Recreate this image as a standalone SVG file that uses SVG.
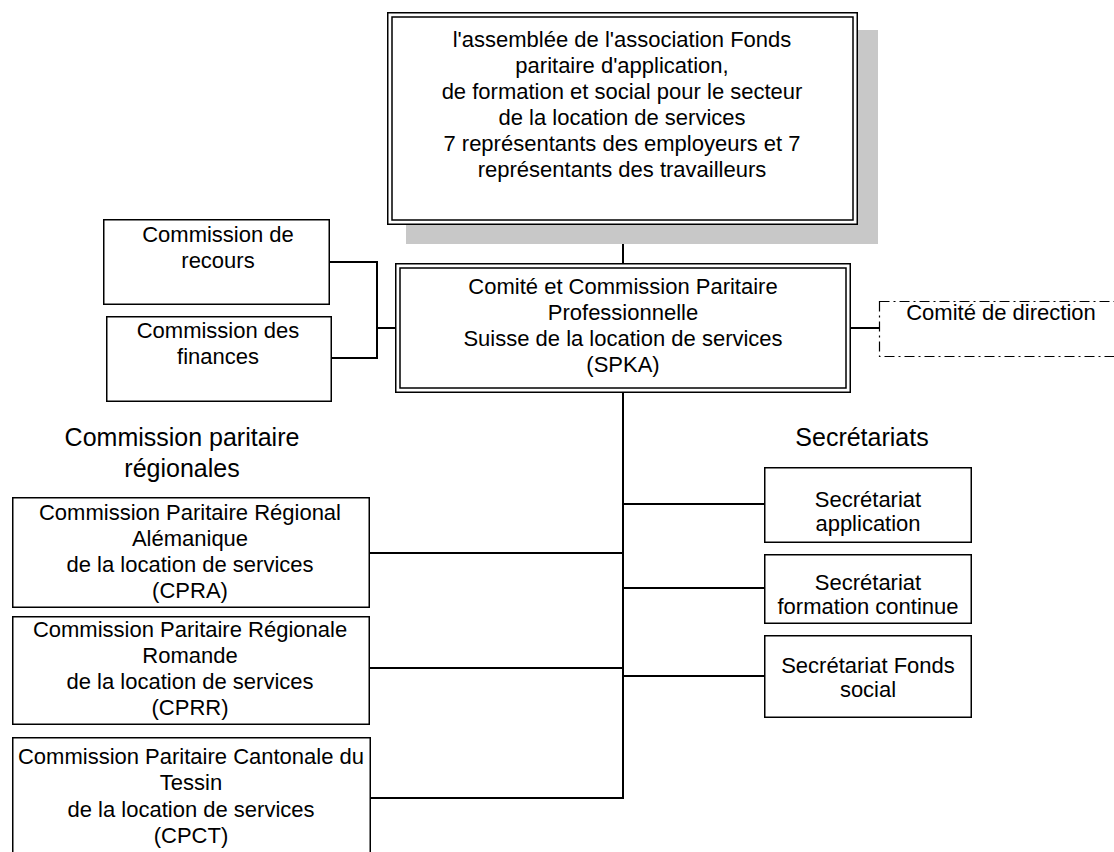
<svg xmlns="http://www.w3.org/2000/svg" width="1114" height="852" viewBox="0 0 1114 852">
<style>
text{font-family:"Liberation Sans",Arial,sans-serif;font-size:22px;fill:#000;text-anchor:middle}
.hd{font-size:25px}
.box{fill:#fff;stroke:#000;stroke-width:1.5}
.dbl{fill:none;stroke:#000;stroke-width:1.5}
.shadow{fill:#c8c8c8}
.dash{fill:#fff;stroke:#000;stroke-width:1.2;stroke-dasharray:10 4 2 4}
.conn line{stroke:#000;stroke-width:2}
</style>
<rect width="1114" height="852" fill="#fff"/>
<g id="connectors" class="conn">
<line x1="623" y1="225" x2="623" y2="263"/>
<line x1="623" y1="393" x2="623" y2="799"/>
<line x1="623" y1="504" x2="764" y2="504"/>
<line x1="623" y1="588" x2="764" y2="588"/>
<line x1="623" y1="676" x2="764" y2="676"/>
<line x1="369" y1="553" x2="623" y2="553"/>
<line x1="369" y1="668" x2="623" y2="668"/>
<line x1="370" y1="798" x2="623" y2="798"/>
<line x1="329" y1="262" x2="378" y2="262"/>
<line x1="331" y1="358" x2="378" y2="358"/>
<line x1="377" y1="261" x2="377" y2="359"/>
<line x1="377" y1="328" x2="395" y2="328"/>
<line x1="851" y1="328" x2="879" y2="328"/>
</g>
<g id="assemblee">
<rect class="shadow" x="406" y="30" width="472" height="214"/>
<rect class="box" x="387.75" y="12.75" width="469.5" height="211.5"/>
<rect class="dbl" x="392" y="17" width="461" height="203"/>
<text x="622" y="47">l'assemblée de l'association Fonds</text>
<text x="622" y="73">paritaire d'application,</text>
<text x="622" y="99">de formation et social pour le secteur</text>
<text x="622" y="125">de la location de services</text>
<text x="622" y="151">7 représentants des employeurs et 7</text>
<text x="622" y="177">représentants des travailleurs</text>
</g>
<g id="spka">
<rect class="box" x="395.75" y="263.75" width="454.5" height="128.5"/>
<rect class="dbl" x="400" y="268" width="446" height="120"/>
<text x="623" y="294">Comité et Commission Paritaire</text>
<text x="623" y="320">Professionnelle</text>
<text x="623" y="346">Suisse de la location de services</text>
<text x="623" y="372">(SPKA)</text>
</g>
<g id="recours">
<rect class="box" x="103.75" y="219.75" width="225.5" height="84.5"/>
<text x="218" y="242">Commission de</text>
<text x="218" y="268">recours</text>
</g>
<g id="finances">
<rect class="box" x="106.75" y="316.75" width="224.5" height="84.5"/>
<text x="218" y="338">Commission des</text>
<text x="218" y="364">finances</text>
</g>
<g id="direction">
<rect class="dash" x="879.5" y="301.5" width="260" height="55"/>
<text x="1001" y="320">Comité de direction</text>
</g>
<g id="hdr-regionales">
<text class="hd" x="182" y="446">Commission paritaire</text>
<text class="hd" x="182" y="477">régionales</text>
</g>
<g id="hdr-secretariats">
<text class="hd" x="862" y="446">Secrétariats</text>
</g>
<g id="cpra">
<rect class="box" x="12.75" y="497.75" width="356.5" height="109.5"/>
<text x="190" y="520">Commission Paritaire Régional</text>
<text x="190" y="546">Alémanique</text>
<text x="190" y="572">de la location de services</text>
<text x="190" y="598">(CPRA)</text>
</g>
<g id="cprr">
<rect class="box" x="12.75" y="616.75" width="356.5" height="107.5"/>
<text x="190" y="637">Commission Paritaire Régionale</text>
<text x="190" y="663">Romande</text>
<text x="190" y="689">de la location de services</text>
<text x="190" y="715">(CPRR)</text>
</g>
<g id="cpct">
<rect class="box" x="12.75" y="737.75" width="357.5" height="140"/>
<text x="191" y="764">Commission Paritaire Cantonale du</text>
<text x="191" y="790">Tessin</text>
<text x="191" y="817">de la location de services</text>
<text x="191" y="843">(CPCT)</text>
</g>
<g id="sec-application">
<rect class="box" x="764.75" y="467.75" width="206.5" height="74.5"/>
<text x="868" y="507">Secrétariat</text>
<text x="868" y="531">application</text>
</g>
<g id="sec-formation">
<rect class="box" x="764.75" y="554.75" width="206.5" height="68.5"/>
<text x="868" y="590">Secrétariat</text>
<text x="868" y="614">formation continue</text>
</g>
<g id="sec-fonds">
<rect class="box" x="764.75" y="635.75" width="206.5" height="81.5"/>
<text x="868" y="673">Secrétariat Fonds</text>
<text x="868" y="697">social</text>
</g>
</svg>
